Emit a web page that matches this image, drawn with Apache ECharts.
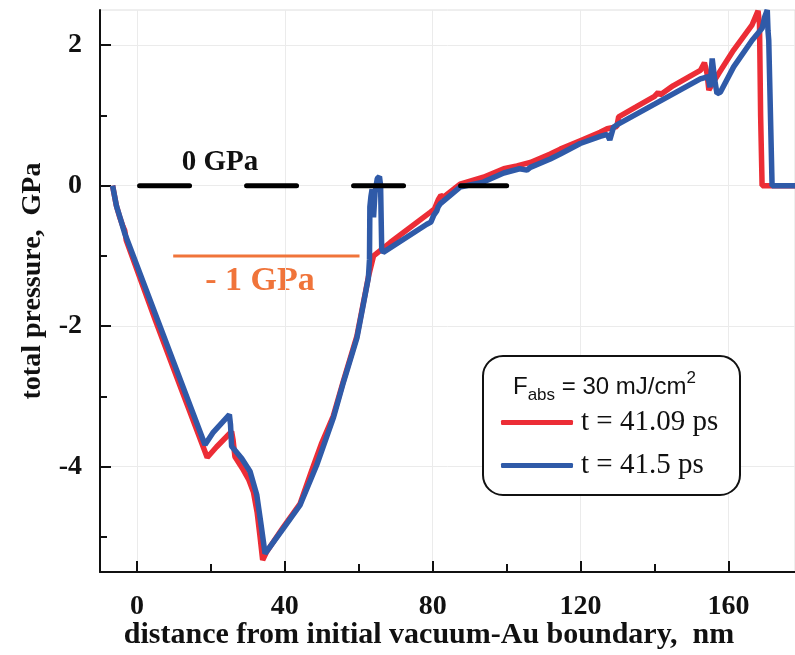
<!DOCTYPE html>
<html>
<head>
<meta charset="utf-8">
<title>total pressure</title>
<script src="https://cdn.jsdelivr.net/npm/echarts@6.0.0/dist/echarts.min.js"></script>
<style>
  html, body { margin: 0; padding: 0; background: #fff; }
  #myChart { width: 795px; height: 655px; }
</style>
</head>
<body>
<div id="myChart"></div>
<script>
// series names (legend)
const seriesNames = ["t = 41.09 ps", "t = 41.5 ps"];

// t = 41.09 ps, [distance nm, pressure GPa]
const redData = [
  [-6.6, 0], [-5.6, -0.28], [-4.6, -0.46], [-3.8, -0.58], [-3.3, -0.64], [-2.9, -0.78],
  [5, -1.92], [12, -2.9], [19.0, -3.87], [21.5, -3.72], [25.6, -3.5], [26.0, -3.62],
  [26.5, -3.86], [28.8, -4.05], [30.2, -4.18], [31.5, -4.36], [32.5, -4.65], [33.3, -5.0],
  [34.0, -5.33], [35.0, -5.22], [39.6, -4.86], [44.1, -4.53], [47.3, -4.05], [50.0, -3.66],
  [53.1, -3.28], [55.9, -2.77], [59.5, -2.14], [62.6, -1.3], [64.0, -1.0], [68.5, -0.81],
  [79.3, -0.38], [80.5, -0.33], [81.5, -0.2], [82.2, -0.14], [83.0, -0.16], [87.4, 0.02],
  [93.7, 0.12], [99.2, 0.24], [102.8, 0.28], [106.4, 0.33], [111.8, 0.45], [114.5, 0.52],
  [119.9, 0.64], [125.3, 0.76], [127.2, 0.81], [129.8, 0.84], [130.3, 0.98], [135, 1.12],
  [140, 1.27], [141, 1.33], [141.5, 1.29], [145, 1.42], [150, 1.57], [152.4, 1.64],
  [153.5, 1.75], [154.2, 1.6], [154.7, 1.36], [155.3, 1.42], [157.4, 1.6], [161.4, 1.93],
  [166.4, 2.29], [168.0, 2.49], [168.4, 2.3], [168.7, 1.0], [169.1, 0], [178, 0]
];

// t = 41.5 ps
const blueData = [
  [-6.6, 0], [-5.5, -0.3], [-4.6, -0.45], [-3.25, -0.69], [18.4, -3.69], [20.5, -3.52],
  [25.0, -3.26], [25.3, -3.4], [25.6, -3.71], [28.3, -3.88], [30.6, -4.07], [32.4, -4.4],
  [33.5, -4.8], [34.65, -5.24], [39.6, -4.88], [44.1, -4.55], [48.6, -3.98], [53.1, -3.31],
  [55.9, -2.79], [59.5, -2.17], [62.6, -1.31], [62.9, -1.05], [63.0, -0.3], [63.3, -0.15],
  [63.6, -0.05], [64.0, -0.45], [64.4, -0.1], [65.0, 0.1], [65.6, 0.13], [65.9, 0.0],
  [66.2, -0.9], [66.6, -0.95], [67.1, -0.95], [78.4, -0.55], [79.5, -0.52], [80.3, -0.42],
  [81.1, -0.36], [81.5, -0.3], [82.0, -0.26], [87.4, -0.02], [93.7, 0.05], [99.2, 0.18],
  [103.5, 0.24], [105.5, 0.22], [106.4, 0.26], [111.8, 0.38], [114.5, 0.45], [119.9, 0.6],
  [125.3, 0.7], [127.2, 0.73], [127.9, 0.65], [128.9, 0.83], [130.3, 0.88], [140, 1.16],
  [152.4, 1.52], [154.5, 1.55], [155.0, 1.4], [155.6, 1.81], [156.3, 1.5], [156.9, 1.31],
  [157.8, 1.33], [161.4, 1.69], [166.4, 2.07], [169.1, 2.24], [169.8, 2.4], [170.5, 2.5],
  [170.7, 2.2], [170.9, 2.07], [171.8, 0], [178, 0]
];

// axis ticks
const xMajorTicks = [0, 40, 80, 120, 160];
const xMinorTicks = [20, 60, 100, 140];
const yMajorTicks = [-4, -2, 0, 2];
const yMinorTicks = [-5, -3, -1, 1];

// guide lines "0 GPa" and "- 1 GPa"
const zeroLine = [[0.7, 0], [100, 0]];
const minusOneLine = [[9.8, -1], [60.2, -1]];

const serif = '"Liberation Serif", "Times New Roman", serif';
const sans = '"Liberation Sans", Arial, sans-serif';
const ink = "#111";
const red = "#ec2d36";
const blue = "#2f5aa8";
const orange = "#f0743a";

let myChart = echarts.init(document.getElementById("myChart"));

function tickAxis(ticks, len, main, pos) {
  return {
    type: "value",
    min: pos === "bottom" ? -10 : -5.5,
    max: pos === "bottom" ? 178 : 2.5,
    position: pos,
    axisLine: { show: main, onZero: false, lineStyle: { color: ink, width: 2 } },
    axisTick: { show: true, inside: true, length: len, customValues: ticks, lineStyle: { color: ink, width: 2 } },
    axisLabel: {
      show: main,
      customValues: ticks,
      margin: pos === "bottom" ? 21 : 18,
      fontFamily: serif,
      fontSize: 28,
      fontWeight: "bold",
      color: ink
    },
    splitLine: { show: main, lineStyle: { color: "#ebebeb", width: 1 } }
  };
}

let option = {
  animation: false,
  backgroundColor: "#fff",
  grid: {
    left: 100,
    right: 0,
    top: 10,
    bottom: 83,
    show: true,
    borderColor: "#dedede",
    borderWidth: 1,
    outerBoundsMode: "none"
  },
  xAxis: [
    tickAxis(xMajorTicks, 11, true, "bottom"),
    tickAxis(xMinorTicks, 8, false, "bottom")
  ],
  yAxis: [
    tickAxis(yMajorTicks, 11, true, "left"),
    tickAxis(yMinorTicks, 7, false, "left")
  ],
  legend: {
    data: seriesNames,
    orient: "vertical",
    left: 496,
    top: 403,
    itemWidth: 72,
    itemHeight: 5,
    itemGap: 14,
    icon: "roundRect",
    selectedMode: false,
    z: 10,
    textStyle: { fontFamily: serif, fontSize: 29, color: ink, padding: [0, 0, 0, 3] }
  },
  graphic: [
    {
      type: "rect",
      z: 5,
      shape: { x: 483, y: 356, width: 257, height: 139, r: 20 },
      style: { fill: "#fff", stroke: ink, lineWidth: 2 }
    },
    {
      type: "text",
      z: 6,
      x: 513,
      y: 387,
      style: {
        text: "{m|F}{s|abs}{m| = 30 mJ/cm}{p|2}",
        textVerticalAlign: "middle",
        fill: ink,
        rich: {
          m: { fontFamily: sans, fontSize: 24, lineHeight: 34, verticalAlign: "middle", color: ink },
          s: { fontFamily: sans, fontSize: 17, lineHeight: 14, verticalAlign: "bottom", color: ink },
          p: { fontFamily: sans, fontSize: 17, lineHeight: 28, verticalAlign: "top", color: ink }
        }
      }
    },
    {
      type: "text",
      x: 220,
      y: 163,
      style: { text: "0 GPa", font: "bold 29px " + serif, fill: ink, textAlign: "center", textVerticalAlign: "middle" }
    },
    {
      type: "text",
      x: 260,
      y: 281,
      style: { text: "- 1 GPa", font: "bold 34px " + serif, fill: orange, textAlign: "center", textVerticalAlign: "middle" }
    },
    {
      // y axis name
      type: "text",
      x: 33,
      y: 281,
      rotation: Math.PI / 2,
      style: { text: "total pressure,  GPa", font: "bold 28px " + serif, fill: ink, textAlign: "center", textVerticalAlign: "middle" }
    },
    {
      // x axis name
      type: "text",
      x: 429,
      y: 635,
      style: { text: "distance from initial vacuum-Au boundary,  nm", font: "bold 30px " + serif, fill: ink, textAlign: "center", textVerticalAlign: "middle" }
    }
  ],
  series: [
    {
      name: seriesNames[0],
      type: "line",
      data: redData,
      symbol: "none",
      showSymbol: false,
      z: 2,
      itemStyle: { color: red },
      lineStyle: { color: red, width: 5.5 }
    },
    {
      name: seriesNames[1],
      type: "line",
      data: blueData,
      symbol: "none",
      showSymbol: false,
      z: 3,
      itemStyle: { color: blue },
      lineStyle: { color: blue, width: 5.5 }
    },
    {
      name: "zero",
      type: "line",
      data: zeroLine,
      symbol: "none",
      silent: true,
      z: 4,
      lineStyle: { color: "#000", width: 5, type: [50, 57], cap: "round" }
    },
    {
      name: "minus one",
      type: "line",
      data: minusOneLine,
      symbol: "none",
      silent: true,
      z: 4,
      lineStyle: { color: orange, width: 3 }
    }
  ]
};

myChart.setOption(option, true);
</script>
</body>
</html>
